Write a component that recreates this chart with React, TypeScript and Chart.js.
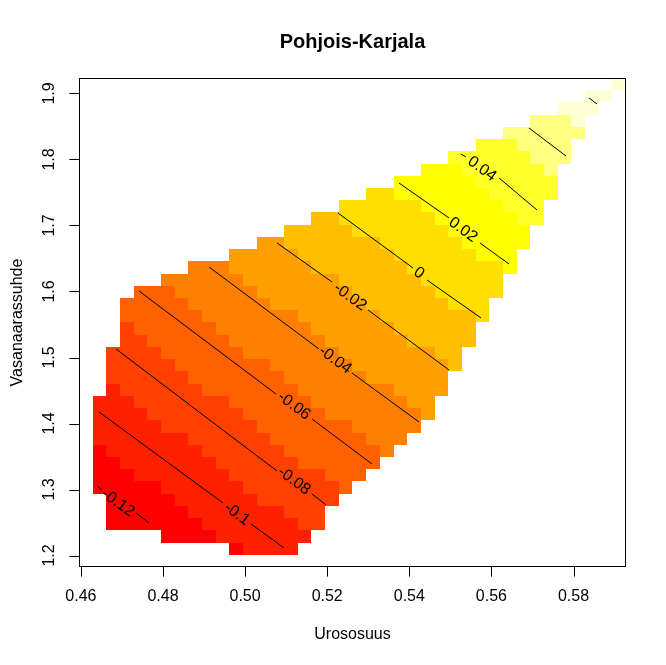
import React, { useEffect, useRef } from "react";
import { Chart, registerables } from "chart.js";

Chart.register(...registerables);

const chartTitle = "Pohjois-Karjala";
const xTitle = "Urososuus";
const yTitle = "Vasanaarassuhde";

const xTicks = [0.46, 0.48, 0.5, 0.52, 0.54, 0.56, 0.58];
const yTicks = [1.2, 1.3, 1.4, 1.5, 1.6, 1.7, 1.8, 1.9];

// extent of the image grid (x = Urososuus, y = Vasanaarassuhde)
const xLimits = [0.459537, 0.592789];
const yLimits = [1.18258, 1.92348];
const gridCols = 40;
const gridRows = 40;

// heat.colors(12)
const heatColors = [
  "#FF0000", "#FF2000", "#FF4000", "#FF6000", "#FF8000", "#FF9F00",
  "#FFBF00", "#FFDF00", "#FFFF00", "#FFFF2A", "#FFFF80", "#FFFFD5",
];

// first filled column of each grid row, bottom row (0) to top row (39)
const rowStart = [
  0, 11, 6, 2, 2, 2, 1, 1, 1, 1,
  1, 1, 1, 1, 2, 2, 2, 2, 3, 3,
  3, 3, 4, 6, 8, 11, 13, 15, 17, 19,
  21, 23, 25, 27, 29, 31, 33, 35, 37, 39,
];

// colour class (hex digit into heatColors) of each filled cell, row by row
const rowCells = [
  "",
  "01111",
  "00001111111",
  "0000000111111122",
  "0000001111111222",
  "00000111111222222",
  "0000011111122222223",
  "00011111112222222333",
  "001111111222222333333",
  "0111111122222233333334",
  "11111112222223333333444",
  "111112222222333333344444",
  "1111222222233333344444445",
  "1112222222333333444444455",
  "1222222333333344444445555",
  "2222223333333444444555555",
  "22222333333344444455555556",
  "22223333334444444555555566",
  "22333333444444455555566666",
  "23333334444444555555666666",
  "333333444444455555566666667",
  "333334444445555555666666777",
  "333444444555555566666677777",
  "4444445555555666666777777",
  "444555555666666677777778",
  "555556666666777777888",
  "55666666677777788888",
  "666667777777888888",
  "66777777788888899",
  "777777888888999",
  "77888888899999",
  "888888999999",
  "888999999a",
  "999999aaa",
  "999aaaa",
  "aaaaaa",
  "aaab",
  "bbb",
  "bb",
  "b",
];

// contour lines (null = gap for the label)
const contourLevels = ["-0.12", "-0.1", "-0.08", "-0.06", "-0.04", "-0.02", "0", "0.02", "0.04", "0.06", "0.08"];
const contourX: (number | null)[][] = [
  [0.46392, 0.46514, null, 0.47342, 0.47659],
  [0.46441, 0.49462, null, 0.50144, 0.50948],
  [0.46855, 0.50777, null, 0.5163, 0.51971],
  [0.47415, 0.50753, null, 0.5163, 0.53091],
  [0.49121, 0.518, null, 0.52604, 0.54236],
  [0.50777, 0.52117, null, 0.52994, 0.54967],
  [0.52263, 0.5409, null, 0.54431, 0.55747],
  [0.53749, 0.54967, null, 0.55722, 0.56429],
  [0.55259, 0.55381, null, 0.56185, 0.57111],
  [0.56916, 0.57817],
  [0.58378, 0.58573],
];
const contourY: (number | null)[][] = [
  [1.30531, 1.29925, null, 1.2644, 1.24925],
  [1.41743, 1.27955, null, 1.24773, 1.21137],
  [1.51288, 1.32803, null, 1.29319, 1.27652],
  [1.60076, 1.4447, null, 1.40682, 1.33864],
  [1.63713, 1.51288, null, 1.47652, 1.40228],
  [1.67349, 1.6144, null, 1.57197, 1.48106],
  [1.71894, 1.63561, null, 1.61743, 1.55985],
  [1.7644, 1.71137, null, 1.67349, 1.64167],
  [1.80834, 1.80379, null, 1.77197, 1.72349],
  [1.84773, 1.80531],
  [1.89319, 1.8841],
];
const labelX = [0.46904, 0.49803, 0.51191, 0.51191, 0.5219, 0.52555, 0.54236, 0.55308, 0.55771, null, null];
const labelY = [1.27955, 1.26288, 1.31288, 1.42652, 1.49622, 1.59167, 1.62803, 1.69319, 1.78561, null, null];

const FONT = '"Liberation Sans", Arial, Helvetica, sans-serif';

export default function App() {
  const ref = useRef<HTMLCanvasElement>(null);

  useEffect(() => {
    document.body.style.margin = "0";
    const canvas = ref.current;
    if (!canvas) return;
    const dx = (xLimits[1] - xLimits[0]) / gridCols;
    const dy = (yLimits[1] - yLimits[0]) / gridRows;

    const imagePlugin = {
      id: "imageCells",
      beforeDatasetsDraw(chart: any) {
        const { ctx } = chart;
        const xs = chart.scales.x;
        const ys = chart.scales.y;
        ctx.save();
        rowCells.forEach((cells, j) => {
          const yb = Math.round(ys.getPixelForValue(yLimits[0] + j * dy));
          const yt = Math.round(ys.getPixelForValue(yLimits[0] + (j + 1) * dy));
          for (let k = 0; k < cells.length; k++) {
            const i = rowStart[j] + k;
            const xl = Math.round(xs.getPixelForValue(xLimits[0] + i * dx));
            const xr = Math.round(xs.getPixelForValue(xLimits[0] + (i + 1) * dx));
            ctx.fillStyle = heatColors[parseInt(cells[k], 16)];
            ctx.fillRect(xl, yt, xr - xl, yb - yt);
          }
        });
        ctx.restore();
      },
    };

    const framePlugin = {
      id: "frame",
      afterDraw(chart: any) {
        const { ctx, chartArea: a } = chart;
        const xs = chart.scales.x;
        const ys = chart.scales.y;
        ctx.save();
        ctx.fillStyle = "#000";
        ctx.strokeStyle = "#000";

        // contour labels
        ctx.font = `16px ${FONT}`;
        ctx.textAlign = "center";
        ctx.textBaseline = "middle";
        contourLevels.forEach((lev, c) => {
          const lx = labelX[c];
          const ly = labelY[c];
          if (lx === null || ly === null) return;
          const cx = contourX[c];
          const cy = contourY[c];
          const n = cx.length;
          const x0 = xs.getPixelForValue(cx[0] as number);
          const y0 = ys.getPixelForValue(cy[0] as number);
          const x1 = xs.getPixelForValue(cx[n - 1] as number);
          const y1 = ys.getPixelForValue(cy[n - 1] as number);
          const ang = Math.atan2(y1 - y0, x1 - x0);
          ctx.save();
          ctx.translate(xs.getPixelForValue(lx), ys.getPixelForValue(ly));
          ctx.rotate(ang);
          ctx.fillText(lev, 0, 0);
          ctx.restore();
        });

        // box
        ctx.lineWidth = 1;
        ctx.strokeRect(a.left + 0.5, a.top + 0.5, a.right - a.left - 1, a.bottom - a.top - 1);

        // ticks
        ctx.beginPath();
        xTicks.forEach((v) => {
          const px = Math.round(xs.getPixelForValue(v)) + 0.5;
          ctx.moveTo(px, a.bottom);
          ctx.lineTo(px, a.bottom + 9.6);
        });
        yTicks.forEach((v) => {
          const py = Math.round(ys.getPixelForValue(v)) + 0.5;
          ctx.moveTo(a.left, py);
          ctx.lineTo(a.left - 9.6, py);
        });
        ctx.stroke();

        // tick labels
        ctx.font = `16px ${FONT}`;
        ctx.textAlign = "center";
        ctx.textBaseline = "middle";
        xTicks.forEach((v) => {
          ctx.fillText(v.toFixed(2), xs.getPixelForValue(v), a.bottom + 30);
        });
        yTicks.forEach((v) => {
          ctx.save();
          ctx.translate(a.left - 29, ys.getPixelForValue(v));
          ctx.rotate(-Math.PI / 2);
          ctx.fillText(v.toFixed(1), 0, 0);
          ctx.restore();
        });

        // axis titles
        const cxm = (a.left + a.right) / 2;
        const cym = (a.top + a.bottom) / 2;
        ctx.fillText(xTitle, cxm, a.bottom + 68);
        ctx.save();
        ctx.translate(a.left - 61, cym);
        ctx.rotate(-Math.PI / 2);
        ctx.fillText(yTitle, 0, 0);
        ctx.restore();

        // main title
        ctx.font = `bold 20px ${FONT}`;
        ctx.fillText(chartTitle, cxm, 42);
        ctx.restore();
      },
    };

    const datasets = contourLevels.map((lev, c) => ({
      label: lev,
      data: contourX[c].map((v, k) =>
        v === null
          ? { x: contourX[c][k - 1] as number, y: null }
          : { x: v, y: contourY[c][k] as number }
      ),
      showLine: true,
      borderColor: "#000000",
      borderWidth: 1,
      pointRadius: 0,
      pointHoverRadius: 0,
      fill: false,
      spanGaps: false,
      tension: 0,
    }));

    const chart = new Chart(canvas, {
      type: "scatter",
      data: { datasets: datasets as any },
      options: {
        animation: false,
        responsive: false,
        devicePixelRatio: 1,
        events: [],
        layout: { padding: { left: 79, top: 78, right: 40, bottom: 98 } },
        scales: {
          x: { type: "linear", min: xLimits[0], max: xLimits[1], display: false },
          y: { type: "linear", min: yLimits[0], max: yLimits[1], display: false },
        },
        plugins: {
          legend: { display: false },
          tooltip: { enabled: false },
          title: { display: false },
        },
      },
      plugins: [imagePlugin, framePlugin],
    });

    return () => chart.destroy();
  }, []);

  return (
    <div style={{ width: 666, height: 665, background: "#fff" }}>
      <canvas ref={ref} width={666} height={665} style={{ display: "block" }} />
    </div>
  );
}
